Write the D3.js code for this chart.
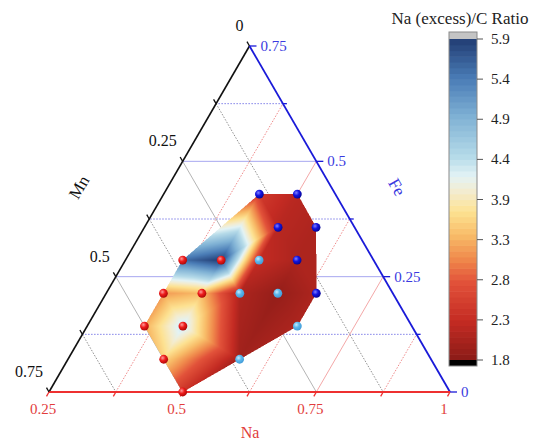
<!DOCTYPE html>
<html><head><meta charset="utf-8">
<script src="https://cdn.jsdelivr.net/npm/d3@7"></script>
<style>body{margin:0;background:#fff}svg{display:block}</style>
</head><body>
<svg id="chart" width="537" height="443"></svg>
<script>
// ---- data ----
const naValues   = [0.5, 0.429, 0.571, 0.357, 0.429, 0.643, 0.357, 0.429, 0.5, 0.571, 0.643, 0.357, 0.429, 0.5, 0.571, 0.5, 0.571, 0.429, 0.5];
const feValues   = [0, 0.071, 0.071, 0.143, 0.143, 0.143, 0.214, 0.214, 0.214, 0.214, 0.214, 0.286, 0.286, 0.286, 0.286, 0.357, 0.357, 0.429, 0.429];
const ratioValues= [2.4, 3.6, 2.0, 3.3, 4.3, 2.1, 3.2, 3.4, 2.1, 1.9, 2.1, 5.5, 5.9, 2.3, 2.1, 2.2, 2.1, 2.5, 2.2];
const pointTypes = ["red","red","lightblue","red","red","lightblue","red","red","lightblue","lightblue","blue","red","red","lightblue","blue","blue","blue","blue","blue"];
const naTicks = [0.25, 0.5, 0.75, 1];
const feTicks = [0, 0.25, 0.5, 0.75];
const mnTicks = [0, 0.25, 0.5, 0.75];
const naTickLabels = ["0.25","0.5","0.75","1"];
const feTickLabels = ["0","0.25","0.5","0.75"];
const mnTickLabels = ["0","0.25","0.5","0.75"];
const colorbarTicks = [1.8, 2.3125, 2.825, 3.3375, 3.85, 4.3625, 4.875, 5.3875, 5.9];
const colorbarTickLabels = ["1.8","2.3","2.8","3.3","3.9","4.4","4.9","5.4","5.9"];
const cmapStops = [1.8, 2.3, 2.8, 3.1, 3.4, 3.7, 3.95, 4.15, 4.4, 4.9, 5.4, 5.9];
const cmapColors = ["#8a1b17","#c42b23","#e2523a","#f08a4c","#f8bc68","#fde292","#f4ecce","#e3f3f5","#b6dbe9","#80b2d5","#4a7cb6","#223d74"];

// ---- geometry ----
const X0 = 49, X1 = 450, Y0 = 392, YT = 46;
const serif = "'Liberation Serif','Times New Roman',serif";
const xS = d3.scaleLinear().domain([0.25, 1]).range([X0, X1]);   // Na along base
const yS = d3.scaleLinear().domain([0, 0.75]).range([Y0, YT]);  // Fe height
function proj(na, fe) { return [xS(na + fe / 2), yS(fe)]; }
function projMn(mn, fe) { return proj(1 - mn - fe, fe); }

const color = d3.scaleLinear().domain(cmapStops).range(cmapColors).interpolate(d3.interpolateRgb).clamp(true);

const svg = d3.select("#chart");
const defs = svg.append("defs");

// ---- grid lines ----
const gGrid = svg.append("g");
const fracs = [0.125, 0.25, 0.375, 0.5, 0.625];
fracs.forEach(f => {
  const p1 = proj(1 - f, f), p2 = projMn(0.75 - f, f);
  const solid = (f === 0.25 || f === 0.5);
  gGrid.append("line").attr("x1", p1[0]).attr("y1", p1[1]).attr("x2", p2[0]).attr("y2", p2[1])
    .attr("stroke", solid ? "#a8a8f0" : "#8080e8").attr("stroke-width", 1)
    .attr("stroke-dasharray", solid ? null : "1.5,1.5");
});
[0.375, 0.5, 0.625, 0.75, 0.875].forEach(n => {
  const p1 = proj(n, 0), p2 = proj(n, 1 - n);
  const solid = (n === 0.5 || n === 0.75);
  gGrid.append("line").attr("x1", p1[0]).attr("y1", p1[1]).attr("x2", p2[0]).attr("y2", p2[1])
    .attr("stroke", solid ? "#f4a8a8" : "#f08a8a").attr("stroke-width", 1)
    .attr("stroke-dasharray", solid ? null : "1.5,1.5");
});
fracs.forEach(m => {
  const p1 = projMn(m, 0.75 - m), p2 = projMn(m, 0);
  const solid = (m === 0.25 || m === 0.5);
  gGrid.append("line").attr("x1", p1[0]).attr("y1", p1[1]).attr("x2", p2[0]).attr("y2", p2[1])
    .attr("stroke", solid ? "#b4b4b4" : "#909090").attr("stroke-width", 1)
    .attr("stroke-dasharray", solid ? null : "1.5,1.5");
});

// ---- interpolated surface (Delaunay, linear) ----
const pts = naValues.map((n, i) => proj(n, feValues[i]));
const delaunay = d3.Delaunay.from(pts);
const SC = 2;
const canvas = document.createElement("canvas");
canvas.width = 537 * SC; canvas.height = 443 * SC;
const ctx = canvas.getContext("2d");
const img = ctx.createImageData(canvas.width, canvas.height);
const tri = delaunay.triangles;
for (let t = 0; t < tri.length; t += 3) {
  const ia = tri[t], ib = tri[t + 1], ic = tri[t + 2];
  const [ax, ay] = pts[ia], [bx, by] = pts[ib], [cx, cy] = pts[ic];
  const det = (by - cy) * (ax - cx) + (cx - bx) * (ay - cy);
  if (Math.abs(det) < 1) continue;
  const minX = Math.floor(Math.min(ax, bx, cx) * SC), maxX = Math.ceil(Math.max(ax, bx, cx) * SC);
  const minY = Math.floor(Math.min(ay, by, cy) * SC), maxY = Math.ceil(Math.max(ay, by, cy) * SC);
  for (let py = minY; py <= maxY; py++) {
    for (let px = minX; px <= maxX; px++) {
      const x = (px + 0.5) / SC, y = (py + 0.5) / SC;
      const l1 = ((by - cy) * (x - cx) + (cx - bx) * (y - cy)) / det;
      const l2 = ((cy - ay) * (x - cx) + (ax - cx) * (y - cy)) / det;
      const l3 = 1 - l1 - l2;
      const e = -0.004;
      if (l1 < e || l2 < e || l3 < e) continue;
      const v = l1 * ratioValues[ia] + l2 * ratioValues[ib] + l3 * ratioValues[ic];
      const c = d3.rgb(color(v));
      const k = (py * canvas.width + px) * 4;
      img.data[k] = c.r; img.data[k + 1] = c.g; img.data[k + 2] = c.b; img.data[k + 3] = 255;
    }
  }
}
ctx.putImageData(img, 0, 0);
svg.append("image").attr("x", 0).attr("y", 0).attr("width", 537).attr("height", 443)
  .attr("href", canvas.toDataURL());

// ---- axes ----
const A = proj(0.25, 0.75), BL = proj(0.25, 0), BR = proj(1, 0);
svg.append("line").attr("x1", BL[0]).attr("y1", BL[1]).attr("x2", A[0]).attr("y2", A[1]).attr("stroke", "#111").attr("stroke-width", 1.6);
svg.append("line").attr("x1", A[0]).attr("y1", A[1]).attr("x2", BR[0]).attr("y2", BR[1]).attr("stroke", "#1a1ad8").attr("stroke-width", 1.8);
svg.append("line").attr("x1", BL[0]).attr("y1", BL[1]).attr("x2", BR[0]).attr("y2", BR[1]).attr("stroke", "#ee3030").attr("stroke-width", 1.8);

const allFr = [0, 0.125, 0.25, 0.375, 0.5, 0.625, 0.75];
allFr.forEach(f => {
  const p = proj(1 - f, f), len = (f * 4) % 1 === 0 ? 7 : 4;
  svg.append("line").attr("x1", p[0]).attr("y1", p[1]).attr("x2", p[0] + len).attr("y2", p[1]).attr("stroke", "#1a1ad8").attr("stroke-width", 1.3);
});
[0.25, 0.375, 0.5, 0.625, 0.75, 0.875, 1].forEach(n => {
  const p = proj(n, 0);
  svg.append("line").attr("x1", p[0]).attr("y1", p[1]).attr("x2", p[0] - 2.5).attr("y2", p[1] + 4.3).attr("stroke", "#ee3030").attr("stroke-width", 1.3);
});
allFr.forEach(m => {
  const p = projMn(m, 0.75 - m);
  svg.append("line").attr("x1", p[0]).attr("y1", p[1]).attr("x2", p[0] - 2.5).attr("y2", p[1] - 4.3).attr("stroke", "#111").attr("stroke-width", 1.3);
});

naTicks.forEach((n, i) => {
  const p = proj(n, 0);
  svg.append("text").attr("x", p[0] - 6).attr("y", p[1] + 22).attr("text-anchor", "middle")
    .attr("font-family", serif).attr("font-size", 15).attr("fill", "#e23c3c").text(naTickLabels[i]);
});
feTicks.forEach((f, i) => {
  const p = proj(1 - f, f);
  svg.append("text").attr("x", p[0] + 11).attr("y", p[1] + 5).attr("text-anchor", "start")
    .attr("font-family", serif).attr("font-size", 15).attr("fill", "#3a3ae0").text(feTickLabels[i]);
});
mnTicks.forEach((m, i) => {
  const p = projMn(m, 0.75 - m);
  svg.append("text").attr("x", p[0] - 6).attr("y", p[1] - 15).attr("text-anchor", "end")
    .attr("font-family", serif).attr("font-size", 16).attr("fill", "#111").text(mnTickLabels[i]);
});

svg.append("text").attr("transform", "translate(84,190) rotate(-60)").attr("text-anchor", "middle")
  .attr("font-family", serif).attr("font-size", 17).attr("fill", "#111").text("Mn");
svg.append("text").attr("transform", "translate(392,190) rotate(60)").attr("text-anchor", "middle")
  .attr("font-family", serif).attr("font-size", 17).attr("fill", "#3a3ae0").text("Fe");
svg.append("text").attr("x", 250).attr("y", 438).attr("text-anchor", "middle")
  .attr("font-family", serif).attr("font-size", 16).attr("fill", "#e23c3c").text("Na");

// ---- points ----
const grads = { red: ["#ff9a9a", "#ee1c1c", "#a80606"], blue: ["#8080ff", "#1414e0", "#05058e"], lightblue: ["#c8ecff", "#5cb8ec", "#3f98d6"] };
Object.entries(grads).forEach(([k, c]) => {
  const g = defs.append("radialGradient").attr("id", "g-" + k).attr("cx", "38%").attr("cy", "35%").attr("r", "70%");
  g.append("stop").attr("offset", "0%").attr("stop-color", c[0]);
  g.append("stop").attr("offset", "45%").attr("stop-color", c[1]);
  g.append("stop").attr("offset", "100%").attr("stop-color", c[2]);
});
svg.append("g").selectAll("circle").data(naValues.map((n, i) => i)).join("circle")
  .attr("cx", i => pts[i][0]).attr("cy", i => pts[i][1]).attr("r", 4.4)
  .attr("fill", i => `url(#g-${pointTypes[i]})`);

// ---- colorbar ----
const cbX = 449, cbW = 28;
const cbY = d3.scaleLinear().domain([1.8, 5.9]).range([360, 39]);
const nb = 56, vmin = 1.8, vmax = 5.9;
const bands = d3.range(nb).map(i => vmin + (i + 0.5) * (vmax - vmin) / nb);
svg.append("g").selectAll("rect").data(bands).join("rect")
  .attr("x", cbX).attr("width", cbW)
  .attr("y", (d, i) => cbY(vmin + (i + 1) * (vmax - vmin) / nb))
  .attr("height", (360 - 39) / nb + 0.6)
  .attr("fill", d => color(d));
svg.append("rect").attr("x", cbX).attr("y", 32).attr("width", cbW).attr("height", 7).attr("fill", "#c4c4c4");
svg.append("rect").attr("x", cbX).attr("y", 360).attr("width", cbW).attr("height", 6).attr("fill", "#000");
svg.append("rect").attr("x", cbX).attr("y", 32).attr("width", cbW).attr("height", 334).attr("fill", "none").attr("stroke", "#8a8a8a").attr("stroke-width", 1);
colorbarTicks.forEach((v, i) => {
  const y = cbY(v);
  svg.append("line").attr("x1", cbX + cbW).attr("x2", cbX + cbW + 6).attr("y1", y).attr("y2", y).attr("stroke", "#555").attr("stroke-width", 1);
  svg.append("text").attr("x", cbX + cbW + 14).attr("y", y + 5).attr("font-family", serif).attr("font-size", 15).attr("fill", "#222").text(colorbarTickLabels[i]);
});
svg.append("text").attr("x", 460).attr("y", 24).attr("text-anchor", "middle")
  .attr("font-family", serif).attr("font-size", 17).attr("fill", "#222").text("Na (excess)/C Ratio");
</script>
</body></html>
